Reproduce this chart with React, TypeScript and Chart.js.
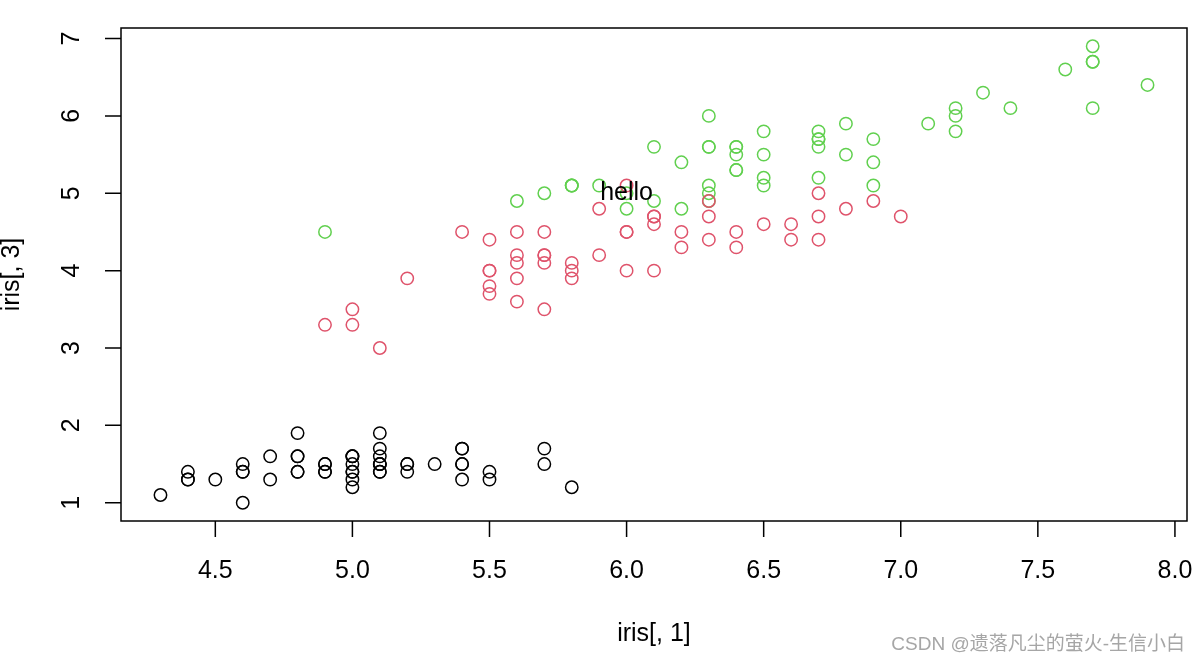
import React, { useEffect, useRef } from "react";
import { Chart, registerables } from "chart.js";

Chart.register(...registerables);

const setosaX = [5.1,4.9,4.7,4.6,5.0,5.4,4.6,5.0,4.4,4.9,5.4,4.8,4.8,4.3,5.8,5.7,5.4,5.1,5.7,5.1,5.4,5.1,4.6,5.1,4.8,5.0,5.0,5.2,5.2,4.7,4.8,5.4,5.2,5.5,4.9,5.0,5.5,4.9,4.4,5.1,5.0,4.5,4.4,5.0,5.1,4.8,5.1,4.6,5.3,5.0];
const setosaY = [1.4,1.4,1.3,1.5,1.4,1.7,1.4,1.5,1.4,1.5,1.5,1.6,1.4,1.1,1.2,1.5,1.3,1.4,1.7,1.5,1.7,1.5,1.0,1.7,1.9,1.6,1.6,1.5,1.4,1.6,1.6,1.5,1.5,1.4,1.5,1.2,1.3,1.4,1.3,1.5,1.3,1.3,1.3,1.6,1.9,1.4,1.6,1.4,1.5,1.4];
const versicolorX = [7.0,6.4,6.9,5.5,6.5,5.7,6.3,4.9,6.6,5.2,5.0,5.9,6.0,6.1,5.6,6.7,5.6,5.8,6.2,5.6,5.9,6.1,6.3,6.1,6.4,6.6,6.8,6.7,6.0,5.7,5.5,5.5,5.8,6.0,5.4,6.0,6.7,6.3,5.6,5.5,5.5,6.1,5.8,5.0,5.6,5.7,5.7,6.2,5.1,5.7];
const versicolorY = [4.7,4.5,4.9,4.0,4.6,4.5,4.7,3.3,4.6,3.9,3.5,4.2,4.0,4.7,3.6,4.4,4.5,4.1,4.5,3.9,4.8,4.0,4.9,4.7,4.3,4.4,4.8,5.0,4.5,3.5,3.8,3.7,3.9,5.1,4.5,4.5,4.7,4.4,4.1,4.0,4.4,4.6,4.0,3.3,4.2,4.2,4.2,4.3,3.0,4.1];
const virginicaX = [6.3,5.8,7.1,6.3,6.5,7.6,4.9,7.3,6.7,7.2,6.5,6.4,6.8,5.7,5.8,6.4,6.5,7.7,7.7,6.0,6.9,5.6,7.7,6.3,6.7,7.2,6.2,6.1,6.4,7.2,7.4,7.9,6.4,6.3,6.1,7.7,6.3,6.4,6.0,6.9,6.7,6.9,5.8,6.8,6.7,6.7,6.3,6.5,6.2,5.9];
const virginicaY = [6.0,5.1,5.9,5.6,5.8,6.6,4.5,6.3,5.8,6.1,5.1,5.3,5.5,5.0,5.1,5.3,5.5,6.7,6.9,5.0,5.7,4.9,6.7,4.9,5.7,6.0,4.8,4.9,5.6,5.8,6.1,6.4,5.6,5.1,5.6,6.1,5.6,5.5,4.8,5.4,5.6,5.1,5.1,5.9,5.7,5.2,5.0,5.2,5.4,5.1];

const xTicks = [4.5, 5.0, 5.5, 6.0, 6.5, 7.0, 7.5, 8.0];
const xTickLabels = ["4.5", "5.0", "5.5", "6.0", "6.5", "7.0", "7.5", "8.0"];
const yTicks = [1, 2, 3, 4, 5, 6, 7];
const yTickLabels = ["1", "2", "3", "4", "5", "6", "7"];

const xTitle = "iris[, 1]";
const yTitle = "iris[, 3]";
const noteText = "hello";
const noteX = 6.0;
const noteY = 5.0;
const watermark = "CSDN @遗落凡尘的萤火-生信小白";

const colors = ["#000000", "#DF536B", "#61D04F"];

const toPoints = (xs: number[], ys: number[]) => xs.map((x, i) => ({ x, y: ys[i] }));

const FONT = '"Liberation Sans", Arial, sans-serif';

const rAxisPlugin = {
  id: "rAxis",
  afterDraw(chart: any) {
    const ctx = chart.ctx;
    const { left, top, right, bottom } = chart.chartArea;
    const xs = chart.scales.x;
    const ys = chart.scales.y;
    ctx.save();
    ctx.strokeStyle = "#000";
    ctx.lineWidth = 1.5;
    ctx.strokeRect(left, top, right - left, bottom - top);
    const tl = 16;
    ctx.beginPath();
    xTicks.forEach((v) => {
      const px = xs.getPixelForValue(v);
      ctx.moveTo(px, bottom);
      ctx.lineTo(px, bottom + tl);
    });
    yTicks.forEach((v) => {
      const py = ys.getPixelForValue(v);
      ctx.moveTo(left, py);
      ctx.lineTo(left - tl, py);
    });
    ctx.stroke();
    ctx.fillStyle = "#000";
    ctx.font = `25px ${FONT}`;
    ctx.textAlign = "center";
    ctx.textBaseline = "middle";
    xTicks.forEach((v, i) => {
      ctx.fillText(xTickLabels[i], xs.getPixelForValue(v), bottom + 50);
    });
    yTicks.forEach((v, i) => {
      ctx.save();
      ctx.translate(left - 49, ys.getPixelForValue(v));
      ctx.rotate(-Math.PI / 2);
      ctx.fillText(yTickLabels[i], 0, 0);
      ctx.restore();
    });
    ctx.fillText(xTitle, (left + right) / 2, bottom + 113);
    ctx.save();
    ctx.translate(left - 109, (top + bottom) / 2);
    ctx.rotate(-Math.PI / 2);
    ctx.fillText(yTitle, 0, 0);
    ctx.restore();
    ctx.fillText(noteText, xs.getPixelForValue(noteX), ys.getPixelForValue(noteY));
    ctx.font = `19px "Liberation Sans", "Noto Sans CJK SC", sans-serif`;
    ctx.fillStyle = "#a6a6a6";
    ctx.textAlign = "right";
    ctx.fillText(watermark, 1185, 645);
    ctx.restore();
  },
};

export default function App() {
  const ref = useRef<HTMLCanvasElement | null>(null);
  useEffect(() => {
    if (!ref.current) return;
    const ds = (data: any, color: string) => ({
      data,
      borderColor: color,
      backgroundColor: "rgba(0,0,0,0)",
      pointStyle: "circle",
      pointRadius: 6.2,
      pointBorderWidth: 1.5,
      pointHoverRadius: 6.2,
      showLine: false,
    });
    const chart = new Chart(ref.current, {
      type: "scatter",
      data: {
        datasets: [
          ds(toPoints(setosaX, setosaY), colors[0]),
          ds(toPoints(versicolorX, versicolorY), colors[1]),
          ds(toPoints(virginicaX, virginicaY), colors[2]),
        ],
      },
      options: {
        animation: false,
        responsive: true,
        maintainAspectRatio: false,
        layout: { padding: { left: 121, top: 28, right: 12, bottom: 142 } },
        plugins: { legend: { display: false }, tooltip: { enabled: false } },
        scales: {
          x: { type: "linear", display: false, min: 4.156, max: 8.044 },
          y: { type: "linear", display: false, min: 0.764, max: 7.136 },
        },
      },
      plugins: [rAxisPlugin],
    });
    return () => chart.destroy();
  }, []);
  return (
    <div style={{ position: "fixed", left: 0, top: 0, width: 1199, height: 663, background: "#fff" }}>
      <canvas ref={ref} />
    </div>
  );
}
